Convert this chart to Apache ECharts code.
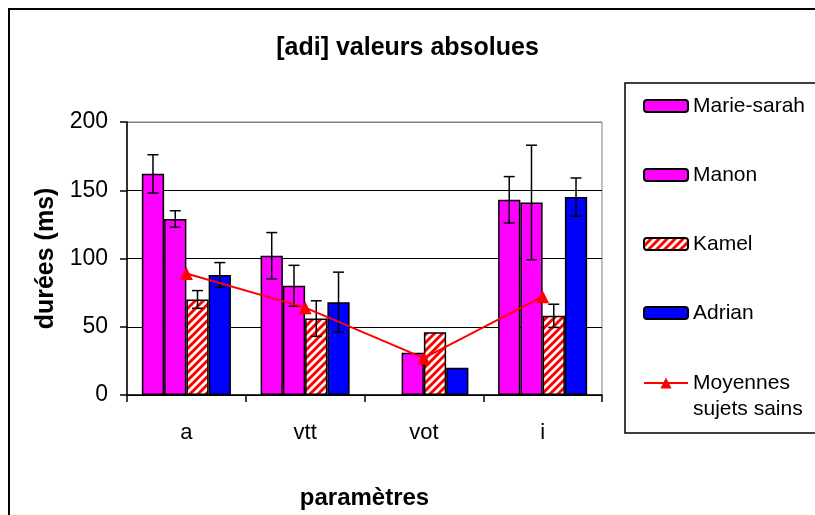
<!DOCTYPE html>
<html>
<head>
<meta charset="utf-8">
<script src="https://cdn.jsdelivr.net/npm/echarts@6/dist/echarts.min.js"></script>
<style>
html,body{margin:0;padding:0;background:#fff;}
#chart{width:815px;height:515px;}
</style>
</head>
<body>
<div id="chart"></div>
<script>
// ---- data ----
const categories = ['a', 'vtt', 'vot', 'i'];
const marieSarah = [162, 102, null, 143];
const marieSarahErr = [14, 17, null, 17];
const manon = [129, 80, 31, 141];
const manonErr = [6, 15, null, 42];
const kamel = [70, 56, 46, 58];
const kamelErr = [6.5, 13, null, 8.5];
const adrian = [88, 68, 20, 145];
const adrianErr = [9, 22, null, 14];
const moyennes = [89, 64, 27, 72];
const yTicks = [0, 50, 100, 150, 200];

const FONT = "'Liberation Sans', Arial, sans-serif";

// striped pattern for Kamel
const pat = document.createElement('canvas');
pat.width = 8; pat.height = 8;
(function () {
  const c = pat.getContext('2d');
  c.fillStyle = '#ffffff';
  c.fillRect(0, 0, 8, 8);
  c.strokeStyle = '#ff0000';
  c.lineWidth = 3;
  c.beginPath();
  for (let o = -8; o <= 8; o += 8) {
    c.moveTo(o - 1, 9);
    c.lineTo(o + 9, -1);
  }
  c.stroke();
})();
const kamelColor = { image: pat, repeat: 'repeat' };

const CAT_GAP = 0.25;
const N_BARS = 4;

function errSeries(values, errs, k) {
  const data = [];
  values.forEach((v, i) => {
    if (v != null && errs[i] != null) data.push([i, v, errs[i]]);
  });
  return {
    type: 'custom',
    z: 5,
    silent: true,
    encode: { x: 0, y: 1 },
    data: data,
    renderItem: function (params, api) {
      const ci = api.value(0), v = api.value(1), e = api.value(2);
      const center = api.coord([ci, v]);
      const band = api.size([1, 0])[0];
      const group = band * (1 - CAT_GAP);
      const bw = group / N_BARS;
      const x = center[0] - group / 2 + bw * (k + 0.5);
      const yt = api.coord([ci, v + e])[1];
      const yb = api.coord([ci, v - e])[1];
      const h = 5.5;
      const st = { stroke: '#000', lineWidth: 1.5 };
      return {
        type: 'group',
        children: [
          { type: 'line', shape: { x1: x, y1: yt, x2: x, y2: yb }, style: st },
          { type: 'line', shape: { x1: x - h, y1: yt, x2: x + h, y2: yt }, style: st },
          { type: 'line', shape: { x1: x - h, y1: yb, x2: x + h, y2: yb }, style: st }
        ]
      };
    }
  };
}

function barSeries(name, values, color) {
  return {
    name: name,
    type: 'bar',
    data: values,
    barGap: '0%',
    barCategoryGap: (CAT_GAP * 100) + '%',
    itemStyle: { color: color, borderColor: '#000', borderWidth: 1.5 },
    emphasis: { disabled: true }
  };
}

const chart = echarts.init(document.getElementById('chart'), null, { renderer: 'canvas' });
chart.setOption({
  animation: false,
  backgroundColor: '#ffffff',
  textStyle: { fontFamily: FONT },
  title: {
    text: '[adi] valeurs absolues',
    left: 'center',
    top: 36,
    padding: 0,
    textStyle: { fontFamily: FONT, fontSize: 25, fontWeight: 'bold', color: '#000' }
  },
  grid: {
    left: 127, right: 213, top: 122, bottom: 120,
    containLabel: false,
    show: true, borderColor: '#808080', borderWidth: 1, backgroundColor: '#fff'
  },
  legend: [
    {
      orient: 'vertical',
      left: 643, top: 95,
      itemWidth: 44, itemHeight: 12, itemGap: 47,
      padding: 0,
      selectedMode: false,
      data: ['Marie-sarah', 'Manon', 'Kamel', 'Adrian'],
      textStyle: { fontFamily: FONT, fontSize: 21, lineHeight: 22, color: '#000' }
    },
    {
      orient: 'vertical',
      left: 643, top: 344,
      itemWidth: 44, itemHeight: 14,
      padding: 0,
      selectedMode: false,
      data: ['Moyennes sujets sains'],
      formatter: function () { return '\nMoyennes\nsujets sains'; },
      textStyle: { fontFamily: FONT, fontSize: 21, lineHeight: 26, color: '#000' }
    }
  ],
  xAxis: {
    type: 'category',
    data: categories,
    name: 'paramètres',
    nameLocation: 'middle',
    nameGap: 91,
    nameTextStyle: { fontFamily: FONT, fontSize: 24, fontWeight: 'bold', color: '#000' },
    axisLine: { lineStyle: { color: '#000', width: 1.5 } },
    axisTick: { show: true, length: 7, alignWithLabel: false, lineStyle: { color: '#000', width: 1.5 } },
    axisLabel: { fontFamily: FONT, fontSize: 22, color: '#000', margin: 27 },
    splitLine: { show: false }
  },
  yAxis: {
    type: 'value',
    min: yTicks[0], max: yTicks[yTicks.length - 1], interval: yTicks[1] - yTicks[0],
    name: 'durées (ms)',
    nameLocation: 'middle',
    nameRotate: 90,
    nameGap: 64,
    nameTextStyle: { fontFamily: FONT, fontSize: 25, fontWeight: 'bold', color: '#000' },
    axisLine: { show: true, lineStyle: { color: '#000', width: 1.5 } },
    axisTick: { show: true, length: 7, lineStyle: { color: '#000', width: 1.5 } },
    axisLabel: { fontFamily: FONT, fontSize: 23, color: '#000', margin: 19 },
    splitLine: { show: true, lineStyle: { color: ['#000', '#000', '#000', '#000', '#808080'], width: 1.2 } }
  },
  series: [
    barSeries('Marie-sarah', marieSarah, '#ff00ff'),
    barSeries('Manon', manon, '#ff00ff'),
    barSeries('Kamel', kamel, kamelColor),
    barSeries('Adrian', adrian, '#0000ff'),
    errSeries(marieSarah, marieSarahErr, 0),
    errSeries(manon, manonErr, 1),
    errSeries(kamel, kamelErr, 2),
    errSeries(adrian, adrianErr, 3),
    {
      name: 'Moyennes sujets sains',
      type: 'line',
      data: moyennes,
      z: 6,
      symbol: 'triangle',
      symbolSize: 13,
      lineStyle: { color: '#ff0000', width: 2 },
      itemStyle: { color: '#ff0000' },
      emphasis: { disabled: true }
    }
  ],
  graphic: [
    {
      type: 'rect', z: 100, silent: true,
      shape: { x: 9, y: 9, width: 820, height: 520 },
      style: { fill: null, stroke: '#000', lineWidth: 2 }
    },
    {
      type: 'rect', z: 100, silent: true,
      shape: { x: 625, y: 83, width: 200, height: 350 },
      style: { fill: null, stroke: '#000', lineWidth: 1.5 }
    }
  ]
});
</script>
</body>
</html>
